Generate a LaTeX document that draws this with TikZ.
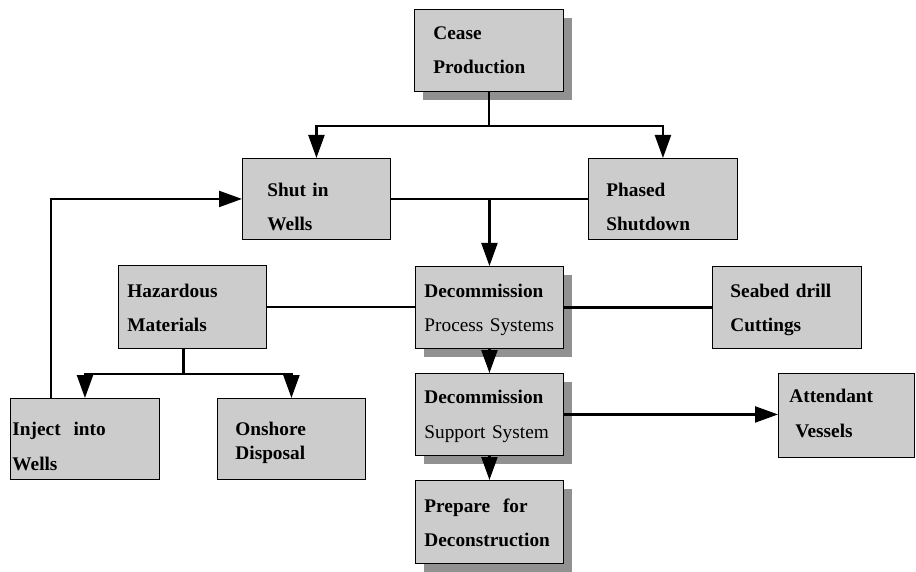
\documentclass[tikz,border=0pt]{standalone}
\usepackage{fontspec}
\setmainfont{Liberation Serif}
\usetikzlibrary{arrows.meta,shadows}

\definecolor{boxfill}{RGB}{204,204,204}
\definecolor{shadowgray}{RGB}{145,145,145}

\begin{document}
\begin{tikzpicture}[
  x=1pt, y=-1pt,
  box/.style={
    draw,
    line width=0.9pt,
    fill=boxfill,
    anchor=north west,
    align=left,
    inner ysep=0pt,
    font=\fontsize{19.3}{34}\selectfont\bfseries
  },
  shade/.style={
    drop shadow={shadow xshift=9pt, shadow yshift=-9pt, fill=shadowgray, opacity=1}
  },
  line/.style={line width=2.2pt},
  arrow/.style={-{Triangle[length=23pt,width=16pt]},line width=2.2pt}
]
\useasboundingbox (0,0) rectangle (916,572);

% boxes: inner xsep = left pad, text width = width - 2 pad
\node[box,shade,inner xsep=19pt,text width=111pt,text height=30pt,text depth=52pt]
  (cease) at (414,9) {Cease\\Production};
\node[box,inner xsep=25pt,text width=98pt,text height=38pt,text depth=43pt]
  (shut) at (242,158) {Shut in\\Wells};
\node[box,inner xsep=18pt,text width=113pt,text height=38pt,text depth=43pt]
  (phased) at (588,158) {Phased\\Shutdown};
\node[box,inner xsep=9pt,text width=130pt,text height=32pt,text depth=51pt]
  (hazard) at (118,265) {Hazardous\\Materials};
\node[box,shade,inner xsep=9pt,text width=130pt,text height=31pt,text depth=51pt]
  (decproc) at (415,266) {Decommission\\\mdseries Process Systems};
\node[box,inner xsep=18pt,text width=113pt,text height=31pt,text depth=51pt]
  (seabed) at (712,266) {Seabed drill\\Cuttings};
\node[box,shade,inner xsep=9pt,text width=130pt,text height=30pt,text depth=52pt]
  (decsupp) at (415,373) {Decommission\\[1pt]\mdseries Support System};
\node[box,inner xsep=11pt,text width=114pt,text height=29pt,text depth=55pt]
  (attend) at (778,373) {Attendant\\[1pt]\hspace{6pt}Vessels};
\node[box,shade,inner xsep=9pt,text width=130pt,text height=32pt,text depth=51pt]
  (prepare) at (415,480) {Prepare\ \ for\\Deconstruction};
\node[box,inner xsep=2pt,text width=145pt,text height=37pt,text depth=44pt]
  (inject) at (10,398) {Inject\ \ into\\[1pt]Wells};
\node[box,inner xsep=18pt,text width=112pt,text height=37pt,text depth=44pt]
  (onshore) at (217,398) {Onshore\\[-10pt]Disposal};

% connectors
\draw[line] (cease.south) -- ++(0,34) coordinate (split1);
\draw[arrow] (split1) -| (shut.north);
\draw[arrow] (split1) -| (phased.north);
\draw[line] (shut.east) -- (shut.east -| phased.west);
\draw[arrow] (shut.east -| decproc.north) -- (decproc.north);
\draw[line] (hazard.east) -- (hazard.east -| decproc.west);
\draw[line] (decproc.east) -- (decproc.east -| seabed.west);
\draw[arrow] (decproc) -- (decsupp);
\draw[arrow] (decsupp.east) -- (decsupp.east -| attend.west);
\draw[arrow] (decsupp) -- (prepare);
\draw[line] ([xshift=-9pt]hazard.south) -- ++(0,25) coordinate (split2);
\draw[arrow] (split2) -| (inject.north);
\draw[arrow] (split2) -| (onshore.north);
\draw[arrow] ([xshift=41pt]inject.north west) |- (shut.west);
\end{tikzpicture}
\end{document}
